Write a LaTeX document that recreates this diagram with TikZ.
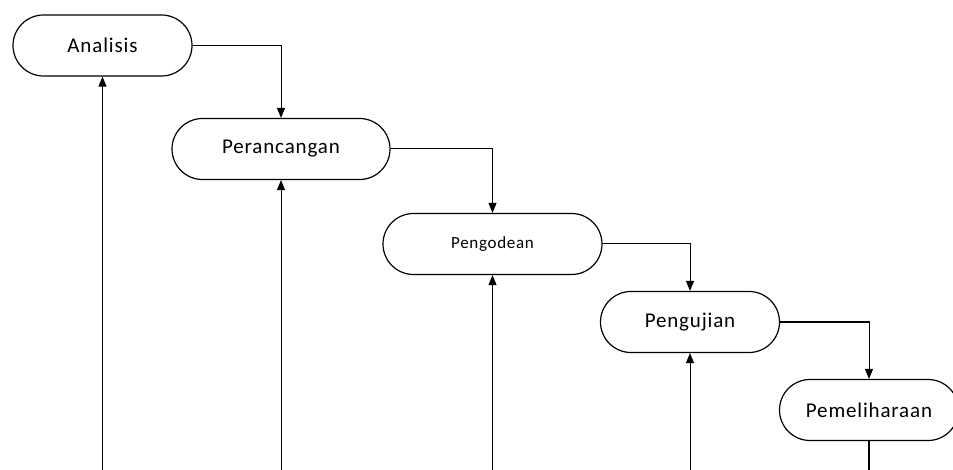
\documentclass[tikz,border=0pt]{standalone}
\usepackage{fontspec}
\setmainfont{Carlito}[LetterSpace=4]
\usetikzlibrary{shapes.misc,arrows.meta}
\tikzset{
  stage/.style={draw, line width=1.2pt, rounded rectangle, inner sep=0pt, minimum height=61pt, font=\fontsize{21}{24}\selectfont},
  arr/.style={line width=1pt, -{Triangle[width=8pt,length=10pt]}},
  plain/.style={line width=1.1pt}
}
\begin{document}
\begin{tikzpicture}[x=1pt,y=-1pt]
\useasboundingbox (0,0) rectangle (953,470);
\node[stage, minimum width=179pt] (ana) at (102.5,45.5) {Analisis};
\node[stage, minimum width=218pt] (per) at (281,149) {Perancangan};
\node[stage, minimum width=219pt, font=\fontsize{17}{20}\selectfont] (peng) at (492.5,244) {Pengodean};
\node[stage, minimum width=179pt] (uji) at (690,322) {Pengujian};
\node[stage, minimum width=179pt] (pem) at (869,410) {Pemeliharaan};
\coordinate (b1) at (102.5,472);
\coordinate (b2) at (281,472);
\coordinate (b3) at (492.5,472);
\coordinate (b4) at (690,472);
\coordinate (b5) at (869,472);
\draw[arr] (ana.east) -| (per.north);
\draw[arr] (per.east) -| (peng.north);
\draw[arr] (peng.east) -| (uji.north);
\draw[arr] (uji.east) -| (pem.north);
\draw[arr] (b1) -- (ana.south);
\draw[arr] (b2) -- (per.south);
\draw[arr] (b3) -- (peng.south);
\draw[arr] (b4) -- (uji.south);
\draw[plain, line width=1.6pt] (pem.south) -- (b5);
\end{tikzpicture}
\end{document}
